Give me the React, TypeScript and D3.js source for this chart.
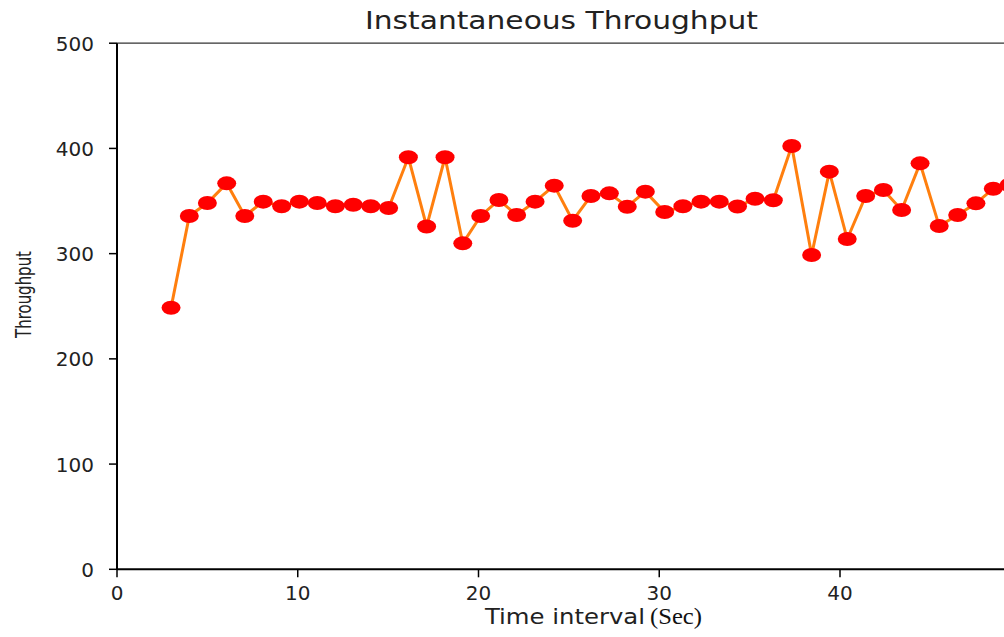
import React from "react";
import * as d3 from "d3";

// Sample times (s) and the measured throughput at each sample
const timeSec = [
  2.99, 4.0, 5.0, 6.07, 7.07, 8.09, 9.11, 10.09, 11.08, 12.08, 13.07, 14.04,
  15.03, 16.12, 17.13, 18.15, 19.13, 20.12, 21.13, 22.11, 23.13, 24.19, 25.21,
  26.22, 27.24, 28.23, 29.23, 30.3, 31.31, 32.31, 33.32, 34.33, 35.3, 36.31,
  37.33, 38.43, 39.41, 40.4, 41.42, 42.4, 43.41, 44.43, 45.49, 46.51, 47.52,
  48.48, 49.35,
];
const throughput = [
  248.6, 335.8, 348.1, 366.8, 335.8, 349.4, 345.0, 349.4, 348.1, 345.0, 346.5,
  345.0, 343.4, 391.6, 325.8, 391.6, 309.8, 335.8, 351.0, 336.7, 349.4, 364.6,
  331.3, 354.8, 357.3, 344.6, 358.9, 339.6, 345.0, 349.4, 349.4, 344.8, 352.2,
  350.7, 402.3, 298.7, 377.9, 313.9, 354.8, 360.5, 341.5, 385.8, 326.2, 336.7,
  347.8, 361.7, 365.2,
];
const xTicks = [0, 10, 20, 30, 40];
const yTicks = [0, 100, 200, 300, 400, 500];

const W = 1004;
const H = 637;
const left = 117;
const top = 43.2;
const bottom = 569.3;

export default function App() {
  const x = d3.scaleLinear().domain([0, 52]).range([left, left + 52 * 18.075]);
  const y = d3.scaleLinear().domain([0, 500]).range([bottom, top]);
  const pts = timeSec.map((t, i) => [t, throughput[i]] as [number, number]);
  const line = d3
    .line<[number, number]>()
    .x((d) => x(d[0]))
    .y((d) => y(d[1]));
  const font = "'DejaVu Sans', sans-serif";
  const right = x(52);

  return (
    <svg
      width={W}
      height={H}
      style={{ position: "absolute", left: 0, top: 0, background: "#fff" }}
    >
      <rect x={0} y={0} width={W} height={H} fill="#fff" />
      {/* data */}
      <path d={line(pts) ?? ""} fill="none" stroke="#ff7f0e" strokeWidth={3} />
      {pts.map((d, i) => (
        <ellipse key={i} cx={x(d[0])} cy={y(d[1])} rx={9.5} ry={7} fill="#ff0000" />
      ))}

      {/* spines */}
      <line x1={left} x2={right} y1={top} y2={top} stroke="#333" strokeWidth={1.3} />
      <line x1={left} x2={left} y1={top} y2={bottom} stroke="#000" strokeWidth={2} />
      <line x1={left} x2={right} y1={bottom} y2={bottom} stroke="#000" strokeWidth={2} />

      {/* y axis */}
      {yTicks.map((v) => (
        <g key={v}>
          <line x1={left - 8} x2={left} y1={y(v)} y2={y(v)} stroke="#000" strokeWidth={1.5} />
          <text
            x={94}
            y={y(v) + 7.5}
            textAnchor="end"
            fontFamily={font}
            fontSize={20}
            fill="#222"
          >
            {v}
          </text>
        </g>
      ))}

      {/* x axis */}
      {xTicks.map((v) => (
        <g key={v}>
          <line x1={x(v)} x2={x(v)} y1={bottom} y2={bottom + 8} stroke="#000" strokeWidth={1.5} />
          <text
            x={x(v)}
            y={599.5}
            textAnchor="middle"
            fontFamily={font}
            fontSize={20}
            fill="#222"
          >
            {v}
          </text>
        </g>
      ))}

      {/* title */}
      <text
        x={561.5}
        y={28.5}
        textAnchor="middle"
        fontFamily={font}
        fontSize={24}
        fill="#222"
        textLength={393}
        lengthAdjust="spacingAndGlyphs"
      >
        Instantaneous Throughput
      </text>

      {/* axis labels */}
      <text x={485} y={624} fontFamily={font} fontSize={20.5} fill="#222" textLength={160} lengthAdjust="spacingAndGlyphs">
        Time interval
      </text>
      <text
        x={650}
        y={624}
        fontFamily="'Liberation Serif', 'Times New Roman', serif"
        fontSize={23}
        fill="#111"
        textLength={52}
        lengthAdjust="spacingAndGlyphs"
      >
        (Sec)
      </text>
      <text
        transform="translate(30.5,294.5) rotate(-90)"
        textAnchor="middle"
        fontFamily={font}
        fontSize={22}
        fill="#222"
        textLength={87}
        lengthAdjust="spacingAndGlyphs"
      >
        Throughput
      </text>
    </svg>
  );
}
